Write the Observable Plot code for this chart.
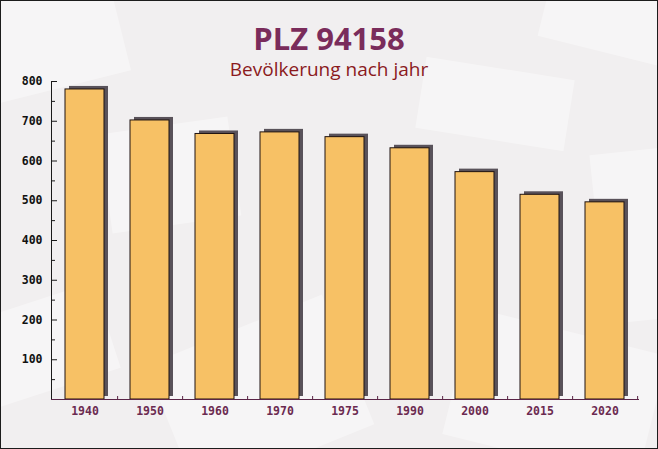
<!DOCTYPE html>
<html>
<head>
<meta charset="utf-8">
<script src="https://cdn.jsdelivr.net/npm/d3@7"></script>
<script src="https://cdn.jsdelivr.net/npm/@observablehq/plot@0.6"></script>
<style>
  body { margin: 0; background: #ffffff; }
  #wrap { position: relative; width: 658px; height: 449px; background: #f1eff0; overflow: hidden; }
  .deco { position: absolute; background: rgba(255,255,255,0.38); }
  #chart { position: absolute; left: 0; top: 0; }
  #titles { position: absolute; left: 0; top: 0; }
  #border { position: absolute; left: 0; top: 0; width: 658px; height: 449px; box-sizing: border-box; border: 1px solid #1c1c1c; pointer-events: none; }
</style>
</head>
<body>
<div id="wrap">
  <div class="deco" style="left:-30px;top:-20px;width:150px;height:110px;transform:rotate(-14deg)"></div>
  <div class="deco" style="left:545px;top:-25px;width:150px;height:80px;transform:rotate(14deg)"></div>
  <div class="deco" style="left:420px;top:68px;width:150px;height:72px;transform:rotate(9deg)"></div>
  <div class="deco" style="left:598px;top:150px;width:90px;height:170px;transform:rotate(-6deg)"></div>
  <div class="deco" style="left:165px;top:325px;width:190px;height:140px;transform:rotate(-22deg)"></div>
  <div class="deco" style="left:455px;top:330px;width:200px;height:130px;transform:rotate(14deg)"></div>
  <div class="deco" style="left:105px;top:125px;width:130px;height:100px;transform:rotate(-8deg)"></div>
  <div class="deco" style="left:-20px;top:300px;width:130px;height:90px;transform:rotate(-18deg)"></div>
  <svg id="titles" width="658" height="90">
    <text x="329" y="49.5" text-anchor="middle" font-family="'Open Sans', sans-serif" font-weight="700" font-size="31" fill="#7a2c5b">PLZ 94158</text>
    <text x="329" y="75.5" text-anchor="middle" font-family="'Open Sans', sans-serif" font-size="19" fill="#8b1a1d">Bevölkerung nach jahr</text>
  </svg>
  <div id="chart"></div>
  <div id="border"></div>
</div>
<script>
const years = ["1940", "1950", "1960", "1970", "1975", "1990", "2000", "2015", "2020"];
const population = [780, 702, 668, 672, 660, 632, 572, 515, 496];
const yTickValues = [100, 200, 300, 400, 500, 600, 700, 800];
const yMinorTicks = [50, 150, 250, 350, 450, 550, 650, 750];

const data = years.map((year, i) => ({year, value: population[i]}));

const W = 658, H = 449, ML = 51, MR = 20, MT = 81, MB = 50;
const plotW = W - ML - MR, plotH = H - MT - MB;
const paddingInner = 0.4, paddingOuter = 0.2;
const step = plotW / (years.length - paddingInner + 2 * paddingOuter);
const monoFont = "'DejaVu Sans Mono', monospace";

const chart = Plot.plot({
  width: W,
  height: H,
  marginLeft: ML,
  marginRight: MR,
  marginTop: MT,
  marginBottom: MB,
  style: {background: "transparent", overflow: "visible"},
  x: {type: "band", domain: years, paddingInner, paddingOuter, label: null},
  y: {domain: [0, 800], label: null},
  marks: [
    Plot.barY(data, {x: "year", y: "value", fill: "#59525a", dx: 4, dy: -3}),
    Plot.barY(data, {x: "year", y: "value", fill: "#f7c165", stroke: "#1e1210", strokeWidth: 1}),
    Plot.frame({anchor: "left", stroke: "#1a1a1a"}),
    Plot.frame({anchor: "bottom", stroke: "#5a2446"}),
    Plot.axisY({ticks: yTickValues, tickSize: 0, tickPadding: 9, fill: "#111111", fontFamily: monoFont, fontWeight: "bold", fontSize: 11.5, label: null}),
    Plot.axisY({anchor: "right", ticks: yTickValues, tickSize: 5, fill: "none", stroke: "#1a1a1a", dx: -plotW, label: null}),
    Plot.axisY({anchor: "right", ticks: yMinorTicks, tickSize: 3, fill: "none", stroke: "#1a1a1a", dx: -plotW, label: null}),
    Plot.axisX({tickSize: 0, tickPadding: 7, fill: "#6b2a50", fontFamily: monoFont, fontWeight: "bold", fontSize: 11.5, label: null}),
    Plot.axisX({anchor: "top", tickSize: 4, fill: "none", stroke: "#5a2446", dx: step / 2, dy: plotH, label: null})
  ]
});
document.getElementById("chart").appendChild(chart);
</script>
</body>
</html>
